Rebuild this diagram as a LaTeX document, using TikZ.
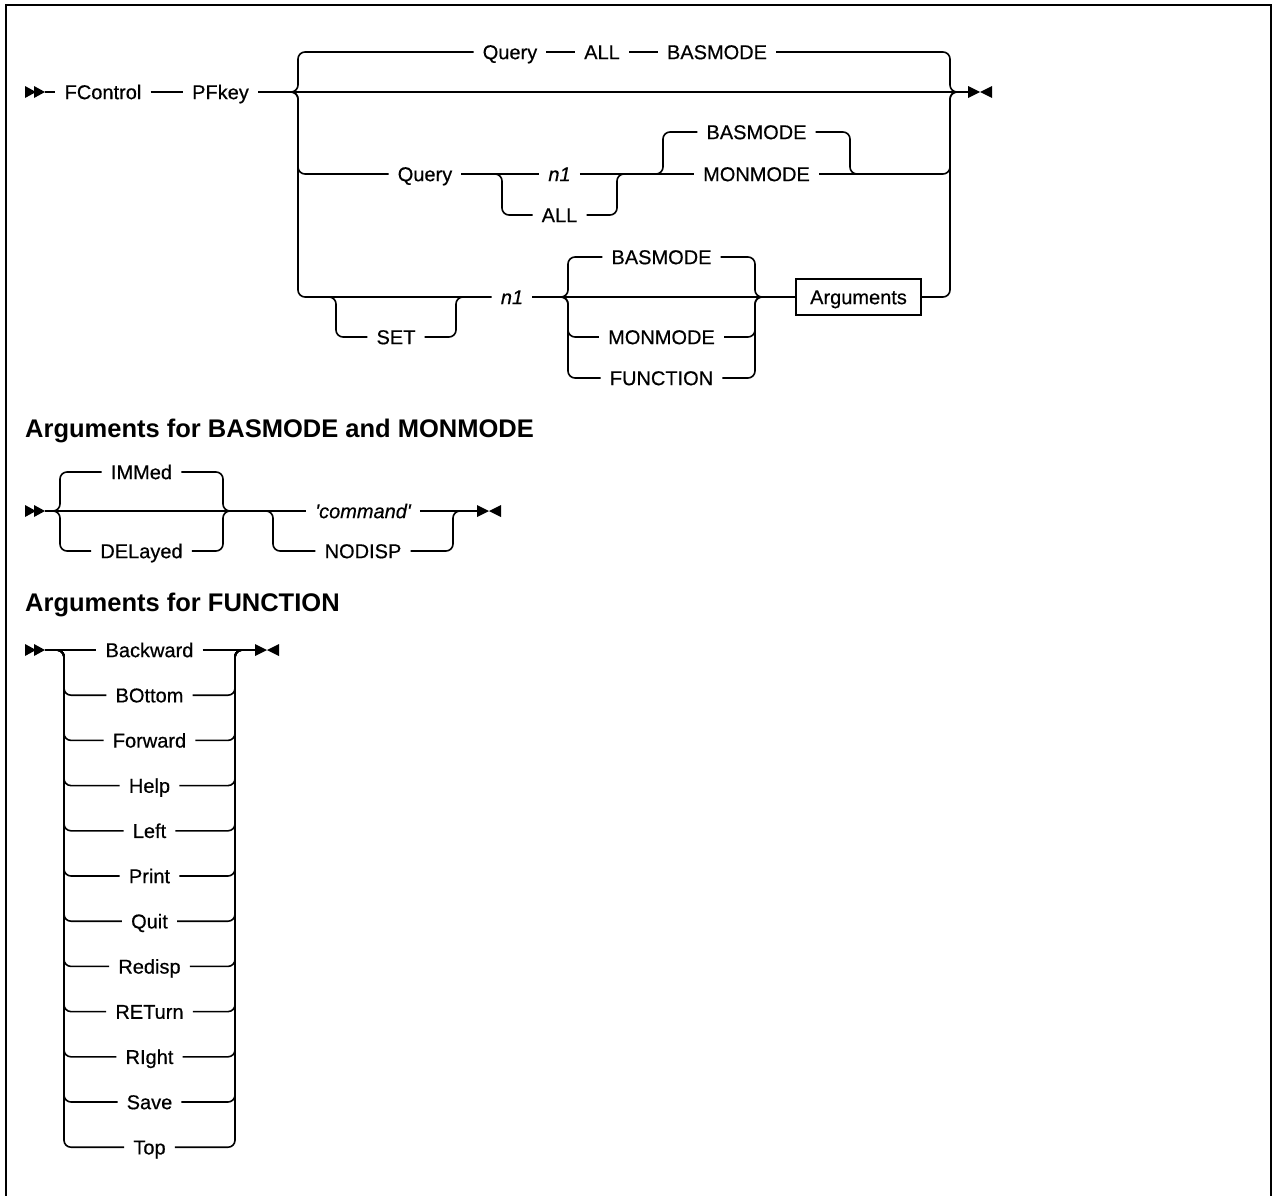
\documentclass[tikz,border=0pt]{standalone}
\usepackage{fontspec}
\setmainfont{Liberation Sans}
\newfontfamily\railfont{Liberation Sans}[BoldFont=Liberation Sans, BoldFeatures={FakeBold=0.5}, BoldItalicFont=Liberation Sans Italic, BoldItalicFeatures={FakeBold=0.5}]
\begin{document}
\begin{tikzpicture}[x=1pt,y=-1pt]
\tikzset{
 rail/.style={line width=1.6pt, rounded corners=7pt},
 lbl/.style={font=\railfont\bfseries\fontsize{20}{24}\selectfont, inner xsep=9pt, inner ysep=0pt, text height=14.3pt, text depth=0pt},
 ilbl/.style={lbl, font=\railfont\bfseries\itshape\fontsize{20}{24}\selectfont},
 head/.style={font=\fontsize{25.5}{30}\selectfont\bfseries, inner sep=0pt, anchor=base west},
 argbox/.style={lbl, draw, line width=1.6pt, minimum width=125pt, minimum height=36pt, inner xsep=6pt},
 startarr/.pic={\fill (0,-6) -- (11,0) -- (0,6) -- cycle; \fill (9,-6) -- (20,0) -- (9,6) -- cycle;},
 endarr/.pic={\fill (0,-6) -- (12,0) -- (0,6) -- cycle; \fill (24,-6) -- (12,0) -- (24,6) -- cycle;},
}
\useasboundingbox (0,0) rectangle (1274,1195);
\fill[white] (0,0) rectangle (1274,1195);
% frame
\draw[line width=2pt] (6,1196) -- (6,5) -- (1271,5) -- (1271,1196);

% ================= Diagram 1 =================
\pic at (25,92) {startarr};
\coordinate (s1) at (45,92);
\pic at (968,92) {endarr};
\coordinate (e1) at (968,92);

\node[lbl] (fc) at (103,92) {FControl};
\node[lbl] (pf) at (220.5,92) {PFkey};
\node[lbl] (q1) at (510,52) {Query};
\node[lbl] (a1) at (602,52) {ALL};
\node[lbl] (b1) at (717,52) {BASMODE};
\node[lbl] (q2) at (425,174) {Query};
\node[ilbl] (n1a) at (559.5,174) {n1};
\node[lbl] (al2) at (559.5,215) {ALL};
\node[lbl] (bm2) at (756.5,132) {BASMODE};
\node[lbl] (mm2) at (756.5,174) {MONMODE};
\node[lbl] (set) at (396,337) {SET};
\node[ilbl] (n1b) at (512,297) {n1};
\node[lbl] (bm3) at (661.5,257) {BASMODE};
\node[lbl] (mm3) at (661.5,337) {MONMODE};
\node[lbl] (fn3) at (661.5,378) {FUNCTION};
\node[argbox] (args) at (858.5,297) {Arguments};

\coordinate (la) at (284,92);   \coordinate (lj) at (298,92);
\coordinate (rj) at (950,92);   \coordinate (rb) at (964,92);
\coordinate (na) at (488,174);  \coordinate (nj) at (502,174);
\coordinate (nr) at (617,174);  \coordinate (nb) at (631,174);
\coordinate (ma) at (649,174);  \coordinate (mj) at (663,174);
\coordinate (mr) at (850,174);  \coordinate (mb) at (864,174);
\coordinate (sa) at (322,297);  \coordinate (sj) at (336,297);
\coordinate (sr) at (456,297);  \coordinate (sb) at (470,297);
\coordinate (fa) at (554,297);  \coordinate (fj) at (568,297);
\coordinate (fr) at (755,297);  \coordinate (fb) at (769,297);

% main line
\draw[rail] (s1) -- (fc.west);
\draw[rail] (fc.east) -- (pf.west);
\draw[rail] (pf.east) -- (e1);
% top branch
\draw[rail] (la) -- (lj) |- (q1.west);
\draw[rail] (q1.east) -- (a1.west);
\draw[rail] (a1.east) -- (b1.west);
\draw[rail] (b1.east) -| (rj) -- (rb);
% query branch
\draw[rail] (la) -- (lj) |- (q2.west);
\draw[rail] (q2.east) -- (n1a.west);
\draw[rail] (na) -- (nj) |- (al2.west);
\draw[rail] (al2.east) -| (nr) -- (nb);
\draw[rail] (n1a.east) -- (mm2.west);
\draw[rail] (ma) -- (mj) |- (bm2.west);
\draw[rail] (bm2.east) -| (mr) -- (mb);
\draw[rail] (mm2.east) -| (rj) -- (rb);
% set branch
\draw[rail] (la) -- (lj) |- (n1b.west);
\draw[rail] (sa) -- (sj) |- (set.west);
\draw[rail] (set.east) -| (sr) -- (sb);
\draw[rail] (n1b.east) -- (args.west);
\draw[rail] (fa) -- (fj) |- (bm3.west);
\draw[rail] (fa) -- (fj) |- (mm3.west);
\draw[rail] (fa) -- (fj) |- (fn3.west);
\draw[rail] (bm3.east) -| (fr) -- (fb);
\draw[rail] (mm3.east) -| (fr) -- (fb);
\draw[rail] (fn3.east) -| (fr) -- (fb);
\draw[rail] (args.east) -| (rj) -- (rb);

% ================= Diagram 2 =================
\node[head] (h1) at (25,437) {Arguments for BASMODE and MONMODE};
\pic at (25,511) {startarr};
\coordinate (s2) at (45,511);
\pic at (477,511) {endarr};
\coordinate (e2) at (477,511);
\node[lbl] (imm) at (141.5,472) {IMMed};
\node[lbl] (del) at (141.5,551) {DELayed};
\node[ilbl] (cmd) at (363,511) {\char"0027 command\char"0027};
\node[lbl] (nod) at (363,551) {NODISP};
\coordinate (ia) at (46,511);  \coordinate (ij) at (60,511);
\coordinate (ir) at (223,511); \coordinate (ib) at (237,511);
\coordinate (ca) at (259,511); \coordinate (cj) at (273,511);
\coordinate (cr) at (453,511); \coordinate (cb) at (467,511);
\draw[rail] (s2) -- (cmd.west);
\draw[rail] (ia) -- (ij) |- (imm.west);
\draw[rail] (ia) -- (ij) |- (del.west);
\draw[rail] (imm.east) -| (ir) -- (ib);
\draw[rail] (del.east) -| (ir) -- (ib);
\draw[rail] (ca) -- (cj) |- (nod.west);
\draw[rail] (nod.east) -| (cr) -- (cb);
\draw[rail] (cmd.east) -- (e2);

% ================= Diagram 3 =================
\node[head] (h2) at (25,611) {Arguments for FUNCTION};
\pic at (25,650) {startarr};
\coordinate (s3) at (45,650);
\pic at (255,650) {endarr};
\coordinate (e3) at (255,650);
\coordinate (ga) at (50,650);  \coordinate (gj) at (64,650);
\coordinate (gr) at (235,650); \coordinate (gb) at (249,650);
\foreach \t [count=\k from 0] in {Backward,BOttom,Forward,Help,Left,Print,Quit,Redisp,RETurn,RIght,Save,Top}
  \node[lbl] (f\k) at (149.5,650+45.2*\k) {\t};
\draw[rail] (s3) -- (f0.west);
\draw[rail] (f0.east) -- (e3);
\foreach \k in {1,...,11} {
  \draw[rail] (ga) -- (gj) |- (f\k.west);
  \draw[rail] (f\k.east) -| (gr) -- (gb);
}
\end{tikzpicture}
\end{document}
